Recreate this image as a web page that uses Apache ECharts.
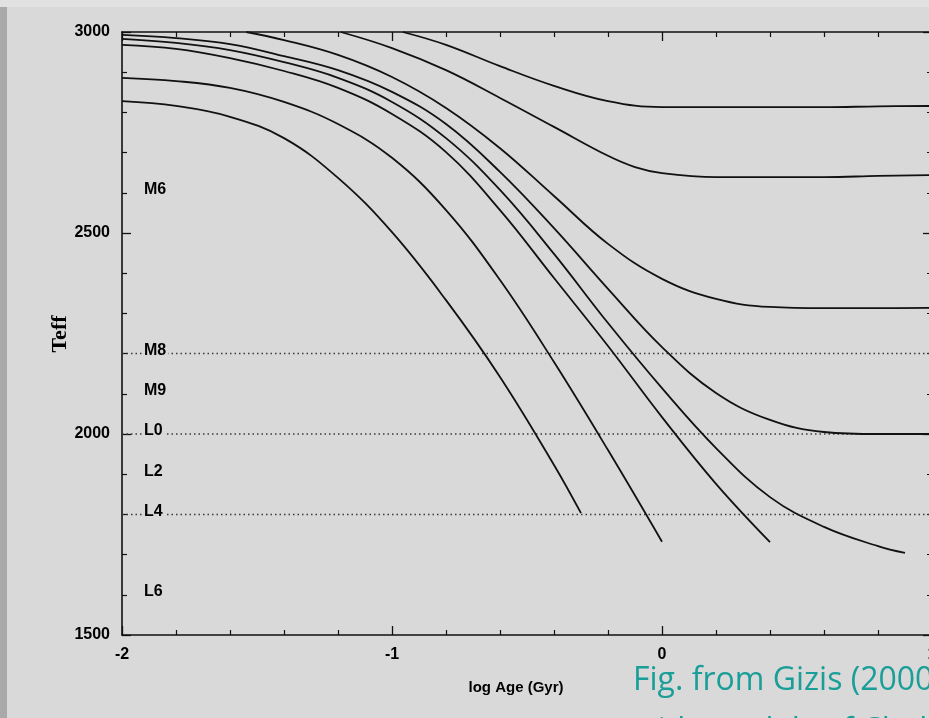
<!DOCTYPE html>
<html>
<head>
<meta charset="utf-8">
<title>Teff vs log Age</title>
<script src="https://cdn.jsdelivr.net/npm/echarts@6/dist/echarts.min.js"></script>
<style>
  html, body { margin: 0; padding: 0; background: #d9d9d9; }
  #chart { width: 929px; height: 718px; }
</style>
</head>
<body>
<div id="chart"></div>
<script>
// Evolutionary tracks: [log Age (Gyr), Teff (K)]
const track1 = [[-2,2828],[-1.8,2816],[-1.6,2789],[-1.4,2736],[-1.2,2637],[-1.0,2502],[-0.8,2333],[-0.6,2142],[-0.4,1923],[-0.3,1803]];
const track2 = [[-2,2886],[-1.8,2878],[-1.6,2861],[-1.4,2826],[-1.2,2771],[-1.0,2687],[-0.8,2557],[-0.6,2383],[-0.4,2179],[-0.2,1960],[0,1732]];
const track3 = [[-2,2968],[-1.8,2958],[-1.6,2935],[-1.4,2903],[-1.2,2861],[-1.0,2796],[-0.8,2701],[-0.6,2557],[-0.4,2388],[-0.2,2219],[0,2042],[0.2,1876],[0.4,1731]];
const track4 = [[-2,2983],[-1.8,2973],[-1.6,2955],[-1.4,2925],[-1.2,2886],[-1.0,2826],[-0.8,2736],[-0.6,2607],[-0.4,2448],[-0.2,2276],[0,2114],[0.2,1965],[0.4,1843],[0.6,1769],[0.8,1721],[0.9,1704]];
const track5 = [[-2,2993],[-1.8,2985],[-1.6,2970],[-1.4,2940],[-1.2,2905],[-1.0,2851],[-0.8,2771],[-0.6,2652],[-0.4,2512],[-0.2,2361],[0,2216],[0.2,2102],[0.4,2035],[0.6,2005],[0.8,2000],[1.0,2000]];
const track6 = [[-1.54,3000],[-1.4,2980],[-1.2,2943],[-1.0,2888],[-0.8,2811],[-0.6,2711],[-0.4,2592],[-0.2,2473],[0,2386],[0.2,2336],[0.4,2316],[0.6,2313],[0.8,2313],[1.0,2314]];
const track7 = [[-1.19,3000],[-1.0,2960],[-0.8,2905],[-0.6,2836],[-0.4,2764],[-0.2,2692],[-0.1,2664],[0,2649],[0.2,2639],[0.4,2639],[0.6,2639],[0.8,2642],[1.0,2644]];
const track8 = [[-0.96,3000],[-0.8,2968],[-0.6,2915],[-0.4,2866],[-0.2,2828],[0,2813],[0.2,2813],[0.4,2813],[0.6,2813],[0.8,2815],[1.0,2816]];

// Spectral type boundaries
const specNames = ['M6', 'M8', 'M9', 'L0', 'L2', 'L4', 'L6'];
const specTeff  = [2600, 2200, 2100, 2000, 1900, 1800, 1600];
const refLevels = [2200, 2000, 1800];

// Axis extents
const xMin = -2, xMax = 1, xStep = 1;
const yMin = 1500, yMax = 3000, yStep = 500;

const tracks = [track1, track2, track3, track4, track5, track6, track7, track8];

const panel = '#d9d9d9';
const ink = '#111';
const labelFont = { color: '#000', fontWeight: 'bold', fontSize: 16, fontFamily: '"Liberation Sans", Arial, sans-serif' };

function axisBase(showLabels, pos) {
  return {
    type: 'value',
    position: pos,
    axisLine: { show: true, onZero: false, lineStyle: { color: ink, width: 1.6 } },
    axisTick: { show: true, inside: true, length: 9, lineStyle: { color: ink, width: 1.3 } },
    minorTick: { show: true, splitNumber: 5, length: 5, lineStyle: { color: ink, width: 1.2 } },
    splitLine: { show: false },
    minorSplitLine: { show: false },
    axisLabel: showLabels
      ? Object.assign({ margin: 12, formatter: function (v) { return String(v); } }, labelFont)
      : { show: false }
  };
}

const series = [];

refLevels.forEach(function (t) {
  series.push({
    type: 'line', silent: true, showSymbol: false, z: 1,
    data: [[xMin, t], [xMax, t]],
    lineStyle: { color: '#3a3a3a', width: 1.5, type: [1.5, 3], cap: 'butt' }
  });
});

tracks.forEach(function (tr) {
  series.push({
    type: 'line', silent: true, showSymbol: false, smooth: 0.4, z: 3,
    data: tr,
    lineStyle: { color: ink, width: 1.8 }
  });
});

series.push({
  type: 'scatter', silent: true, symbolSize: 0, z: 2,
  itemStyle: { opacity: 1 },
  data: specTeff.map(function (t, i) { return { name: specNames[i], value: [xMin, t] }; }),
  label: Object.assign({}, labelFont, {
    show: true, position: 'right', distance: 20, formatter: '{b}',
    backgroundColor: panel, padding: [0, 2], offset: [0, -3]
  })
});

const chart = echarts.init(document.getElementById('chart'), null, { renderer: 'canvas' });
chart.setOption({
  backgroundColor: panel,
  animation: false,
  grid: { left: 122, top: 32, width: 810, height: 603, containLabel: false, outerBoundsMode: 'none' },
  xAxis: [
    Object.assign(axisBase(true, 'bottom'), { min: xMin, max: xMax, interval: xStep }),
    Object.assign(axisBase(false, 'top'), { min: xMin, max: xMax, interval: xStep })
  ],
  yAxis: [
    Object.assign(axisBase(true, 'left'), { min: yMin, max: yMax, interval: yStep }),
    Object.assign(axisBase(false, 'right'), { min: yMin, max: yMax, interval: yStep })
  ],
  graphic: [
    { type: 'rect', silent: true, z: -10, shape: { x: 0, y: 0, width: 929, height: 7 }, style: { fill: '#e1e1e1' } },
    { type: 'rect', silent: true, z: -10, shape: { x: 0, y: 7, width: 7, height: 711 }, style: { fill: '#a9a9a9' } },
    { type: 'text', silent: true, x: 60, y: 334, rotation: Math.PI / 2,
      style: { text: 'Teff', font: 'bold 22px "Liberation Serif", serif', fill: '#000', textAlign: 'center', textVerticalAlign: 'middle' } },
    { type: 'text', silent: true, x: 516, y: 688,
      style: { text: 'log Age (Gyr)', font: 'bold 15px "Liberation Sans", Arial, sans-serif', fill: '#000', textAlign: 'center', textVerticalAlign: 'middle' } },
    { type: 'text', silent: true, x: 633, y: 681,
      style: { text: 'Fig. from Gizis (2000)', font: '32px "Open Sans", sans-serif', fill: '#1a9e98', textAlign: 'left', textVerticalAlign: 'middle' } },
    { type: 'text', silent: true, x: 633, y: 732,
      style: { text: 'with models of Chabrier et al.', font: '32px "Open Sans", sans-serif', fill: '#1a9e98', textAlign: 'left', textVerticalAlign: 'middle' } }
  ],
  series: series
});
</script>
</body>
</html>
